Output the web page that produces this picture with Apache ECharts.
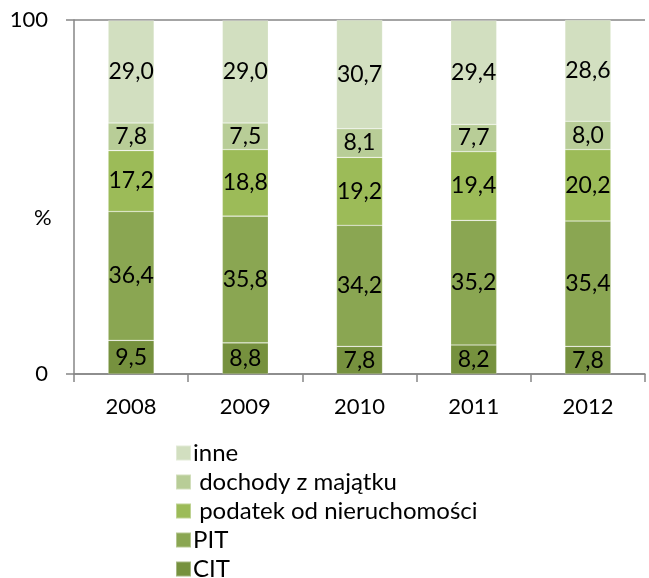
<!DOCTYPE html>
<html lang="pl">
<head>
    <meta charset="UTF-8">
    <title>struktura dochodów</title>
    <script src="https://cdn.jsdelivr.net/npm/echarts@6/dist/echarts.min.js"></script>
</head>
<body style="margin:0">
    <div id="main" style="width: 649px;height:578px;"></div>

    <script>
        var years = ['2008', '2009', '2010', '2011', '2012'];
        var cit = [9.5, 8.8, 7.8, 8.2, 7.8];
        var pit = [36.4, 35.8, 34.2, 35.2, 35.4];
        var podatek = [17.2, 18.8, 19.2, 19.4, 20.2];
        var dochody = [7.8, 7.5, 8.1, 7.7, 8.0];
        var inne = [29.0, 29.0, 30.7, 29.4, 28.6];

        var names = ['CIT', 'PIT', ' podatek od nieruchomości', ' dochody z majątku', 'inne'];
        var colors = ['#76913e', '#8aa652', '#9cbb58', '#b8cd97', '#d2dfc0'];
        var values = [cit, pit, podatek, dochody, inne];

        var font = 'Lato, "Open Sans", sans-serif';

        var myChart = echarts.init(document.getElementById('main'));

        // pięć warstw, CIT na dole
        var series = names.map(function (n, i) {
            return {
                name: n,
                type: 'bar',
                stack: 'all',
                barWidth: 46,
                data: values[i],
                itemStyle: { color: colors[i], borderColor: 'rgba(255,255,255,0.35)', borderWidth: 0.6 },
                label: {
                    show: true,
                    position: 'inside',
                    color: '#000',
                    fontFamily: font,
                    fontSize: 23,
                    formatter: function (p) { return p.value.toFixed(1).replace('.', ','); }
                }
            };
        });

        var option = {
            animation: false,
            grid: { left: 74, right: 4, top: 20, bottom: 204 },
            legend: {
                orient: 'vertical',
                left: 175,
                top: 441,
                height: 300,
                padding: 0,
                itemWidth: 15,
                itemHeight: 15,
                itemGap: 5,
                icon: 'rect',
                data: names.slice().reverse(),
                textStyle: { fontFamily: font, fontSize: 24, color: '#000', padding: [0, 0, 0, -3] }
            },
            xAxis: {
                type: 'category',
                data: years,
                axisLine: { lineStyle: { color: '#868686', width: 1.5 } },
                axisTick: { show: true, length: 8, lineStyle: { color: '#868686', width: 1.5 } },
                axisLabel: { color: '#000', fontFamily: font, fontSize: 22, margin: 22 }
            },
            yAxis: {
                type: 'value',
                min: 0,
                max: 100,
                interval: 100,
                axisLine: { show: true, lineStyle: { color: '#868686', width: 1.5 } },
                axisTick: { show: true, length: 8, lineStyle: { color: '#868686', width: 1.5 } },
                splitLine: { show: true, lineStyle: { color: '#868686', width: 1.5 } },
                axisLabel: { color: '#000', fontFamily: font, fontSize: 22, margin: 26 }
            },
            graphic: [{
                type: 'text',
                left: 34,
                top: 207,
                style: { text: '%', fill: '#000', font: '22px ' + font }
            }],
            series: series
        };

        myChart.setOption(option);
    </script>
</body>
</html>
